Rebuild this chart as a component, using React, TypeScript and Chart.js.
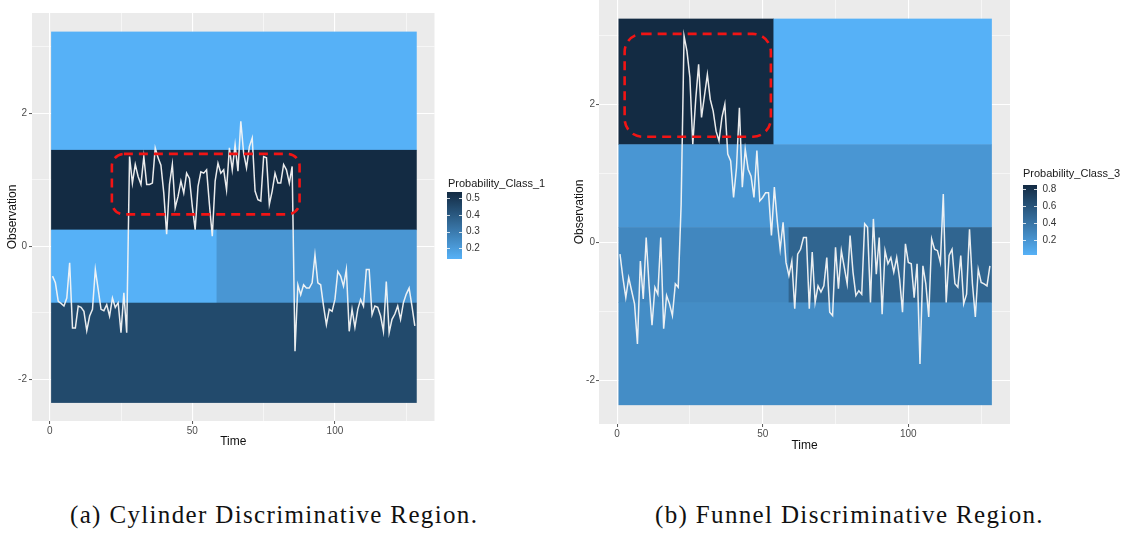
import React, { useEffect, useRef } from 'react';
import { Chart, registerables } from 'chart.js';

Chart.register(...registerables);

// ---------------- data ----------------
const cylinderValues = [
  -0.45, -0.55, -0.83, -0.86, -0.9, -0.78, -0.25, -1.23, -1.23, -0.9, -0.92, -0.98, -1.27, -1.05, -0.95, -0.35,
  -0.65, -0.95, -0.97, -0.88, -1.05, -0.78, -0.92, -0.85, -1.3, -0.7, -1.3,
  1.35, 0.95, 1.23, 1.05, 0.93, 1.35, 0.93, 0.93, 0.95, 1.48, 1.33, 1.22, 0.8, 0.18, 0.93, 1.23, 0.58, 0.75,
  0.98, 0.8, 1.1, 1.02, 0.6, 0.25, 0.9, 1.12, 1.1, 1.15, 0.63, 0.15, 0.98, 1.25, 1.1, 1.15, 0.85, 1.48, 1.15,
  1.53, 1.13, 1.88, 1.4, 1.18, 1.5, 1.63, 0.83, 0.7, 0.68, 1.35, 1.33, 0.63, 0.83, 1.1, 0.95, 0.95, 1.23, 1.15,
  0.95, 1.2,
  -1.58,
  -0.58, -0.73, -0.58, -0.63, -0.63, -0.55, -0.13, -0.55, -0.58, -0.9, -1.18, -0.95, -0.98, -0.8, -0.38, -0.45,
  -0.6, -0.35, -1.28, -0.95, -1.22, -0.95, -0.8, -0.9, -0.35, -0.35, -1.03, -0.9, -0.92, -1.05, -1.28, -0.53,
  -1.3, -1.1, -1.02, -0.9, -1.1, -0.85, -0.72, -0.63, -0.9, -1.2,
];

const funnelValues = [
  -0.17, -0.51, -0.8, -0.51, -0.7, -0.89, -1.47, -0.27, -0.82, 0.07, -0.63, -1.2, -0.65, -0.75, 0.07, -1.25,
  -0.77, -0.89, -1.06, -0.6, -0.65, 0.55,
  2.99, 2.77, 2.39, 1.42, 2.07, 2.58, 1.81, 2.12, 2.43, 2.07, 1.9, 1.61, 1.47, 1.81, 2.0, 1.28, 1.18, 0.65,
  1.08, 1.95, 0.8, 1.35, 1.06, 0.96, 0.65, 1.33, 0.6, 0.65, 0.72, 0.72,
  0.1, 0.8, 0.31, -0.1, 0.29, -0.29, -0.48, -0.27, -0.96, -0.17, -0.1, 0.07, 0.07, -0.96, -0.14, -0.87, -0.63,
  -0.72, -0.63, -0.22, -1.01, -1.06, -0.07, -0.67, -0.12, -0.36, -0.6, 0.1, -0.43, -0.77, -0.7, -0.75, 0.27,
  0.22, -0.87, 0.34, -0.46, 0.07, -1.04, -0.12, -0.31, -0.22, -0.43, -0.22,
  -0.53, -1.01, -0.02, -0.29, -0.31, -0.8, -0.31, -1.76, -0.34, -0.6, -1.08, 0.05, -0.1, -0.12, -0.29, 0.7,
  -0.87, -0.19, -0.1, -0.6, -0.65, -0.19, -0.89, -0.75, 0.19, -0.6, -1.08, -0.39, -0.58, -0.6, -0.63, -0.34,
];

const timeIndex = cylinderValues.map((_, i) => i + 1);

const xTicks = [0, 25, 50, 75, 100, 125];
const xTickLabels = [0, 50, 100];
const yTicks = [-2, -1, 0, 1, 2, 3];
const yTickLabels = [-2, 0, 2];
const xRange = [-6.2, 134.9];
const yRange = [-2.63, 3.51];

// heat-map tiles (probability regions)
const cylTileX0 = [0.5, 0.5, 0.5, 58.5, 0.5];
const cylTileX1 = [128.5, 128.5, 58.5, 128.5, 128.5];
const cylTileY0 = [1.45, 0.25, -0.85, -0.85, -2.35];
const cylTileY1 = [3.23, 1.45, 0.25, 0.25, -0.85];
const cylTileProb = [0.136, 0.538, 0.136, 0.216, 0.446];

const funTileX0 = [0.5, 53.7, 0.5, 0.5, 58.9, 0.5];
const funTileX1 = [53.7, 128.5, 128.5, 58.9, 128.5, 128.5];
const funTileY0 = [1.42, 1.42, 0.22, -0.87, -0.87, -2.35];
const funTileY1 = [3.24, 3.24, 1.42, 0.22, 0.22, -0.87];
const funTileProb = [0.851, 0.022, 0.188, 0.279, 0.495, 0.246];

// discriminative region boxes [x0, x1, y0, y1]
const cylBox = [21.8, 87.6, 0.48, 1.39];
const funBox = [2.6, 52.8, 1.53, 3.02];

// legends
const cylLegendTitle = 'Probability_Class_1';
const cylLegendTicks = [0.2, 0.3, 0.4, 0.5];
const cylProbRange = [0.136, 0.538];
const funLegendTitle = 'Probability_Class_3';
const funLegendTicks = [0.2, 0.4, 0.6, 0.8];
const funProbRange = [0.022, 0.851];

const captions = ['(a) Cylinder Discriminative Region.', '(b) Funnel Discriminative Region.'];

// ---------------- helpers ----------------
const LOW = [86, 177, 247];
const HIGH = [19, 43, 67];
function colorFor(p: number, range: number[]) {
  let t = (p - range[0]) / (range[1] - range[0]);
  t = Math.max(0, Math.min(1, t));
  const c = LOW.map((l, i) => Math.round(l + (HIGH[i] - l) * t));
  return `rgb(${c[0]},${c[1]},${c[2]})`;
}

const SANS = '"Liberation Sans", Arial, sans-serif';

type PanelProps = {
  values: number[];
  tiles: { x0: number[]; x1: number[]; y0: number[]; y1: number[]; p: number[] };
  box: number[];
  boxRadius: number;
  legendTitle: string;
  legendTicks: number[];
  probRange: number[];
  layout: any;
};

function Panel({ values, tiles, box, boxRadius, legendTitle, legendTicks, probRange, layout }: PanelProps) {
  const ref = useRef<HTMLCanvasElement>(null);
  useEffect(() => {
    const canvas = ref.current!;
    const L = layout;
    const plugin = {
      id: 'panelDecor',
      beforeDraw(chart: any) {
        const { ctx, chartArea: a } = chart;
        ctx.save();
        ctx.fillStyle = '#EBEBEB';
        ctx.fillRect(a.left, a.top, a.right - a.left, a.bottom - a.top);
        ctx.restore();
      },
      beforeDatasetsDraw(chart: any) {
        const { ctx } = chart;
        const xs = chart.scales.x;
        const ys = chart.scales.y;
        ctx.save();
        for (let i = 0; i < tiles.p.length; i++) {
          const px0 = xs.getPixelForValue(tiles.x0[i]);
          const px1 = xs.getPixelForValue(tiles.x1[i]);
          const py0 = ys.getPixelForValue(tiles.y1[i]);
          const py1 = ys.getPixelForValue(tiles.y0[i]);
          ctx.fillStyle = colorFor(tiles.p[i], probRange);
          ctx.fillRect(px0, py0, px1 - px0 + 0.5, py1 - py0 + 0.5);
        }
        ctx.restore();
      },
      afterDatasetsDraw(chart: any) {
        const { ctx } = chart;
        const xs = chart.scales.x;
        const ys = chart.scales.y;
        const bx0 = xs.getPixelForValue(box[0]);
        const bx1 = xs.getPixelForValue(box[1]);
        const by0 = ys.getPixelForValue(box[3]);
        const by1 = ys.getPixelForValue(box[2]);
        ctx.save();
        ctx.strokeStyle = '#f21414';
        ctx.lineWidth = 2.6;
        ctx.setLineDash([9, 6]);
        ctx.beginPath();
        ctx.roundRect(bx0, by0, bx1 - bx0, by1 - by0, boxRadius);
        ctx.stroke();
        ctx.restore();
      },
      afterDraw(chart: any) {
        const { ctx } = chart;
        const lg = L.legend;
        ctx.save();
        ctx.fillStyle = '#1a1a1a';
        ctx.font = `11px ${SANS}`;
        ctx.textBaseline = 'alphabetic';
        ctx.textAlign = 'left';
        ctx.fillText(legendTitle, lg.titleX, lg.titleY);
        const grad = ctx.createLinearGradient(0, lg.barBottom, 0, lg.barTop);
        for (let s = 0; s <= 10; s++) {
          const p = probRange[0] + ((probRange[1] - probRange[0]) * s) / 10;
          grad.addColorStop(s / 10, colorFor(p, probRange));
        }
        ctx.fillStyle = grad;
        ctx.fillRect(lg.barX, lg.barTop, lg.barW, lg.barBottom - lg.barTop);
        const yFor = (v: number) =>
          lg.barBottom - ((v - probRange[0]) / (probRange[1] - probRange[0])) * (lg.barBottom - lg.barTop);
        ctx.strokeStyle = 'rgba(255,255,255,0.8)';
        ctx.lineWidth = 1;
        ctx.font = `10px ${SANS}`;
        ctx.textBaseline = 'middle';
        for (const v of legendTicks) {
          const y = Math.round(yFor(v)) + 0.5;
          ctx.beginPath();
          ctx.moveTo(lg.barX, y);
          ctx.lineTo(lg.barX + 3, y);
          ctx.moveTo(lg.barX + lg.barW - 3, y);
          ctx.lineTo(lg.barX + lg.barW, y);
          ctx.stroke();
          ctx.fillStyle = '#333333';
          ctx.fillText(v.toFixed(1), lg.labelX, yFor(v));
        }
        ctx.restore();
      },
    };

    const isMajorX = (v: number) => xTickLabels.includes(v);
    const isMajorY = (v: number) => yTickLabels.includes(v);

    const chart = new Chart(canvas, {
      type: 'line',
      data: {
        datasets: [
          {
            data: values.map((v, i) => ({ x: timeIndex[i], y: v })),
            borderColor: 'rgba(245,245,245,0.95)',
            borderWidth: 1.5,
            pointRadius: 0,
            tension: 0,
            fill: false,
          },
        ],
      },
      options: {
        animation: false,
        responsive: false,
        maintainAspectRatio: false,
        layout: { padding: { left: 0, top: L.padTop, right: L.padRight, bottom: 0 } },
        plugins: { legend: { display: false }, tooltip: { enabled: false } },
        scales: {
          x: {
            type: 'linear',
            min: xRange[0],
            max: xRange[1],
            afterBuildTicks: (s: any) => {
              s.ticks = xTicks.map((v) => ({ value: v }));
            },
            afterFit: (s: any) => {
              s.height = L.xAxisH;
            },
            ticks: {
              autoSkip: false,
              maxRotation: 0,
              padding: L.xTickPad,
              color: '#4d4d4d',
              font: { family: SANS, size: 10 },
              callback: (v: any) => (isMajorX(Number(v)) ? String(v) : ''),
            },
            grid: {
              color: '#ffffff',
              lineWidth: (c: any) => (c.tick && isMajorX(c.tick.value) ? 1.1 : 0.55),
              tickLength: 3,
              tickWidth: 1,
              tickColor: (c: any) => (c.tick && isMajorX(c.tick.value) ? '#555555' : 'rgba(0,0,0,0)'),
            },
            border: { display: false },
            title: {
              display: true,
              text: 'Time',
              color: '#111111',
              font: { family: SANS, size: 12 },
              padding: { top: 0, bottom: L.xTitlePad },
            },
          },
          y: {
            type: 'linear',
            min: yRange[0],
            max: yRange[1],
            afterBuildTicks: (s: any) => {
              s.ticks = yTicks.map((v) => ({ value: v }));
            },
            afterFit: (s: any) => {
              s.width = L.yAxisW;
            },
            ticks: {
              autoSkip: false,
              padding: L.yTickPad,
              color: '#4d4d4d',
              font: { family: SANS, size: 10 },
              callback: (v: any) => (isMajorY(Number(v)) ? String(v) : ''),
            },
            grid: {
              color: '#ffffff',
              lineWidth: (c: any) => (c.tick && isMajorY(c.tick.value) ? 1.1 : 0.55),
              tickLength: 3,
              tickWidth: 1,
              tickColor: (c: any) => (c.tick && isMajorY(c.tick.value) ? '#555555' : 'rgba(0,0,0,0)'),
            },
            border: { display: false },
            title: {
              display: true,
              text: 'Observation',
              color: '#111111',
              font: { family: SANS, size: 12 },
              padding: { top: L.yTitlePad, bottom: 0 },
            },
          },
        },
      },
      plugins: [plugin],
    } as any);
    return () => chart.destroy();
  }, []);

  return (
    <canvas
      ref={ref}
      width={layout.w}
      height={layout.h}
      style={{ position: 'absolute', left: layout.left, top: layout.top, width: layout.w, height: layout.h }}
    />
  );
}

const cylLayout = {
  left: 0, top: 0, w: 570, h: 460,
  padTop: 13, padRight: 135.5, xAxisH: 39, yAxisW: 32,
  xTickPad: 1, yTickPad: 2, xTitlePad: 11.4, yTitlePad: 5.9,
  legend: { titleX: 448, titleY: 186.5, barX: 447, barW: 15, barTop: 192, barBottom: 259, labelX: 466 },
};

// canvas shifted up by 7px; chart area top lands at page y = -1
const funLayout = {
  left: 570, top: -7, w: 576, h: 470,
  padTop: 6, padRight: 136, xAxisH: 39, yAxisW: 29,
  xTickPad: 1, yTickPad: 1, xTitlePad: 10.4, yTitlePad: 2.4,
  legend: { titleX: 453, titleY: 184, barX: 453, barW: 14, barTop: 192, barBottom: 262, labelX: 472.5 },
};

const captionStyle: React.CSSProperties = {
  position: 'absolute',
  top: 500,
  fontFamily: '"Liberation Serif", "Times New Roman", serif',
  fontSize: 25,
  letterSpacing: '1.35px',
  lineHeight: '30px',
  color: '#111',
  whiteSpace: 'nowrap',
};

export default function App() {
  useEffect(() => {
    document.body.style.margin = '0';
  }, []);
  return (
    <div style={{ position: 'relative', width: 1146, height: 537, background: '#ffffff', overflow: 'hidden' }}>
      <Panel
        values={cylinderValues}
        tiles={{ x0: cylTileX0, x1: cylTileX1, y0: cylTileY0, y1: cylTileY1, p: cylTileProb }}
        box={cylBox}
        boxRadius={12}
        legendTitle={cylLegendTitle}
        legendTicks={cylLegendTicks}
        probRange={cylProbRange}
        layout={cylLayout}
      />
      <Panel
        values={funnelValues}
        tiles={{ x0: funTileX0, x1: funTileX1, y0: funTileY0, y1: funTileY1, p: funTileProb }}
        box={funBox}
        boxRadius={18}
        legendTitle={funLegendTitle}
        legendTicks={funLegendTicks}
        probRange={funProbRange}
        layout={funLayout}
      />
      <div style={{ ...captionStyle, left: 70 }}>{captions[0]}</div>
      <div style={{ ...captionStyle, left: 655 }}>{captions[1]}</div>
    </div>
  );
}
